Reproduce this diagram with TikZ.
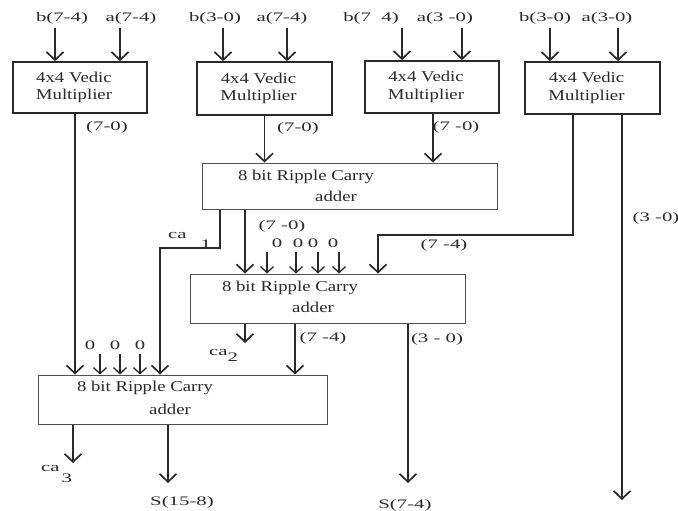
\documentclass[tikz,border=0pt]{standalone}
\usepackage{fontspec}
\setmainfont{Liberation Serif}
\newfontfamily\lblfont[FakeStretch=1.6]{Liberation Serif}
\newfontfamily\bxfont[FakeStretch=1.25]{Liberation Serif}
\usetikzlibrary{arrows.meta}
\definecolor{ink}{HTML}{2A2A2A}
\definecolor{boxline}{HTML}{505050}
\tikzset{
  mult/.style={draw=ink, line width=1.7pt, inner sep=0pt},
  mtext/.style={inner sep=0pt, align=center, xshift=-6pt,
    font=\bxfont\fontsize{15}{17.5}\selectfont, text=ink},
  adderbox/.style={draw=boxline, line width=1pt, inner sep=0pt},
  atext/.style={inner sep=0pt, font=\bxfont\fontsize{15}{17}\selectfont, text=ink},
  lbl/.style={inner sep=0pt, font=\lblfont\fontsize{13}{15}\selectfont, text=ink},
  arr/.style={draw=ink, line width=1.7pt, -{Straight Barb[length=8pt,width=17pt,line width=1.7pt]}},
  arrs/.style={draw=ink, line width=1.3pt, -{Straight Barb[length=6pt,width=13pt,line width=1.3pt]}}
}
\begin{document}
\begin{tikzpicture}[x=1pt,y=-1pt]
\useasboundingbox (0,0) rectangle (678,511);
\fill[white] (0,0) rectangle (678,511);

% multipliers
\node[mult, minimum width=134pt, minimum height=51pt, label={[mtext]center:4x4 Vedic\\Multiplier}] (m1) at (80,87.5) {};
\node[mult, minimum width=135pt, minimum height=53pt, label={[mtext]center:4x4 Vedic\\Multiplier}] (m2) at (264.5,88.5) {};
\node[mult, minimum width=134pt, minimum height=52pt, label={[mtext]center:4x4 Vedic\\Multiplier}] (m3) at (432,87) {};
\node[mult, minimum width=135pt, minimum height=52pt, label={[mtext]center:4x4 Vedic\\Multiplier}] (m4) at (592.5,88) {};

% adders
\node[adderbox, minimum width=295pt, minimum height=46pt] (a1) at (349.5,186) {};
\node[atext] (a1t1) at (306,177) {8 bit Ripple Carry};
\node[atext] (a1t2) at (336,196) {adder};
\node[adderbox, minimum width=275pt, minimum height=49pt] (a2) at (327.5,298.5) {};
\node[atext] (a2t1) at (290,288) {8 bit Ripple Carry};
\node[atext] (a2t2) at (313,307) {adder};
\node[adderbox, minimum width=289pt, minimum height=49pt] (a3) at (182.5,399.5) {};
\node[atext] (a3t1) at (145,388) {8 bit Ripple Carry};
\node[atext] (a3t2) at (170,409) {adder};

% input labels
\node[lbl] (lb1) at (62,18) {b(7-4)};
\node[lbl] (la1) at (131,18) {a(7-4)};
\node[lbl] (lb2) at (215,18) {b(3-0)};
\node[lbl] (la2) at (282,18) {a(7-4)};
\node[lbl] (lb3) at (371,18) {b(7\ \ 4)};
\node[lbl] (la3) at (445,18) {a(3 -0)};
\node[lbl] (lb4) at (545,18) {b(3-0)};
\node[lbl] (la4) at (607,18) {a(3-0)};

\coordinate (i1) at (55,28);
\coordinate (i2) at (120,28);
\coordinate (i3) at (223,28);
\coordinate (i4) at (287,28);
\coordinate (i5) at (402,28);
\coordinate (i6) at (462,28);
\coordinate (i7) at (550,28);
\coordinate (i8) at (618,28);
\draw[arr] (i1) -- (i1 |- m1.north);
\draw[arr] (i2) -- (i2 |- m1.north);
\draw[arr] (i3) -- (i3 |- m2.north);
\draw[arr] (i4) -- (i4 |- m2.north);
\draw[arr] (i5) -- (i5 |- m3.north);
\draw[arr] (i6) -- (i6 |- m3.north);
\draw[arr] (i7) -- (i7 |- m4.north);
\draw[arr] (i8) -- (i8 |- m4.north);

% multiplier outputs
\draw[arr] ([xshift=-5pt]m1.south) -- ([xshift=-5pt]m1.south |- a3.north);
\draw[arr] (m2.south) -- (m2.south |- a1.north);
\draw[arr] ([xshift=1pt]m3.south) -- ([xshift=1pt]m3.south |- a1.north);
\coordinate (k1) at (378,235);
\draw[arr] ([xshift=-19.5pt]m4.south) |- (k1) -- (k1 |- a2.north);
\coordinate (e4) at (622,500);
\draw[arr] ([xshift=29.5pt]m4.south) -- (e4);

\node[lbl] (o1) at (107,127) {(7-0)};
\node[lbl] (o2) at (298,128) {(7-0)};
\node[lbl] (o3) at (456,127) {(7 -0)};
\node[lbl] (o5) at (444,245) {(7 -4)};
\node[lbl] (o6) at (656,218) {(3 -0)};

% adder 1 outputs
\coordinate (k2) at (160,248);
\draw[arr] ([xshift=-129.5pt]a1.south) |- (k2) -- (k2 |- a3.north);
\draw[arr] ([xshift=-104.5pt]a1.south) -- ([xshift=-104.5pt]a1.south |- a2.north);
\node[lbl] (o4) at (282,226) {(7 -0)};
\node[lbl, anchor=west] (ca1) at (168,235) {ca\hspace{14pt}\raisebox{-10pt}[0pt][0pt]{1}};

% zeros into adder 2
\node[lbl] (z1) at (277,243) {0};
\node[lbl] (z2) at (298,243) {0};
\node[lbl] (z3) at (313,243) {0};
\node[lbl] (z4) at (333,243) {0};
\coordinate (zc1) at (267,252);
\coordinate (zc2) at (296,252);
\coordinate (zc3) at (318,252);
\coordinate (zc4) at (339,252);
\draw[arrs] (zc1) -- (zc1 |- a2.north);
\draw[arrs] (zc2) -- (zc2 |- a2.north);
\draw[arrs] (zc3) -- (zc3 |- a2.north);
\draw[arrs] (zc4) -- (zc4 |- a2.north);

% adder 2 outputs
\coordinate (e5) at (245,343);
\draw[arr] ([xshift=-82.5pt]a2.south) -- (e5);
\draw[arr] ([xshift=-32.5pt]a2.south) -- ([xshift=-32.5pt]a2.south |- a3.north);
\coordinate (e6) at (408,483);
\draw[arr] ([xshift=80.5pt]a2.south) -- (e6);
\node[lbl, anchor=west] (ca2) at (209,352) {ca\raisebox{-6pt}[0pt][0pt]{2}};
\node[lbl] (o8) at (323,338) {(7 -4)};
\node[lbl] (o9) at (437,339) {(3 - 0)};

% zeros into adder 3
\node[lbl] (y1) at (90,345) {0};
\node[lbl] (y2) at (115,345) {0};
\node[lbl] (y3) at (140,345) {0};
\coordinate (yc1) at (100,354);
\coordinate (yc2) at (120,354);
\coordinate (yc3) at (140,354);
\draw[arrs] (yc1) -- (yc1 |- a3.north);
\draw[arrs] (yc2) -- (yc2 |- a3.north);
\draw[arrs] (yc3) -- (yc3 |- a3.north);

% adder 3 outputs
\coordinate (e7) at (73,463);
\draw[arr] ([xshift=-109.5pt]a3.south) -- (e7);
\coordinate (e8) at (168,483);
\draw[arr] ([xshift=-14.5pt]a3.south) -- (e8);
\node[lbl, anchor=west] (ca3) at (41,468) {ca\hspace{2pt}\raisebox{-11pt}[0pt][0pt]{3}};
\node[lbl] (s1) at (182,502) {S(15-8)};
\node[lbl] (s2) at (405,505) {S(7-4)};
\end{tikzpicture}
\end{document}
